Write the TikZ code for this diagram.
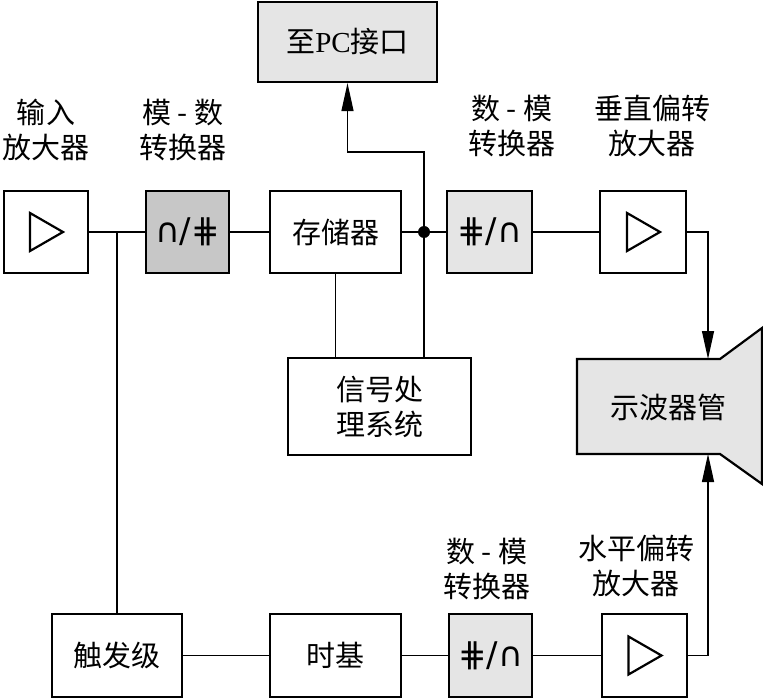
\documentclass[tikz,border=0pt]{standalone}
\usepackage{fontspec}
\setmainfont{Noto Sans CJK SC}
\newfontfamily\latinfont{Liberation Serif}
\newfontfamily\symfont{DejaVu Sans}
\usetikzlibrary{arrows.meta}

\newcommand{\symtext}[1]{{\symfont\fontsize{17}{17}\selectfont #1}}

\begin{document}
\begin{tikzpicture}[x=0.5pt,y=-0.5pt,line width=0.6pt,
                >={Triangle[length=14pt,width=6pt]},
                main node/.style={draw, line width=1.1pt, inner sep=0pt,
                  font=\fontsize{14.5}{17.5}\selectfont},
                dark node/.style={main node, fill=black!22},
                light node/.style={main node, fill=black!10},
                label node/.style={align=center, inner sep=0pt,
                  font=\fontsize{14.5}{17.5}\selectfont}]
  \useasboundingbox (0,0) rectangle (763,699);

  % top row
  \node[main node, minimum width=42pt, minimum height=41pt] (ia) at (46,232) {};
  \node[dark node, minimum width=41.5pt, minimum height=41pt] (adc) at (187.5,232) {\symtext{∩/⋕}};
  \node[main node, minimum width=65.5pt, minimum height=41pt] (mem) at (335.5,232) {存储器};
  \node[light node, minimum width=89.5pt, minimum height=40pt] (pc) at (347.5,42) {至{\latinfont PC}接口};
  \node[light node, minimum width=42.5pt, minimum height=41pt] (dac1) at (489.5,232) {\symtext{⋕/∩}};
  \node[main node, minimum width=43pt, minimum height=41pt] (va) at (643,232) {};
  \node[main node, minimum width=91.5pt, minimum height=48.5pt, align=center] (sp) at (379.5,406.5) {信号处\\理系统};

  % bottom row
  \node[main node, minimum width=65pt, minimum height=41.5pt] (tr) at (117,655.5) {触发级};
  \node[main node, minimum width=65.5pt, minimum height=41.5pt] (tb) at (335.5,655.5) {时基};
  \node[light node, minimum width=41.5pt, minimum height=41.5pt] (dac2) at (490.5,655.5) {\symtext{⋕/∩}};
  \node[main node, minimum width=42.5pt, minimum height=41.5pt] (ha) at (644.5,655.5) {};

  % amplifier symbols
  \foreach \n in {ia,va,ha}
    \draw[line width=1.1pt] ([shift={(-16,-19)}]\n.center) -- ++(33,19) -- ++(-33,19) -- cycle;

  % oscilloscope tube
  \draw[line width=1.1pt, fill=black!10] (577,359) -- (720,359) -- (762,328)
    -- (762,484) -- (720,454) -- (577,454) -- cycle;
  \node[label node] (crt) at (668,407) {示波器管};
  \coordinate (vin) at (708,359);
  \coordinate (hin) at (708,454);

  % labels
  \node[label node] (ialabel) at (46,130) {输入\\放大器};
  \node[label node] (adclabel) at (183,130) {模 - 数\\转换器};
  \node[label node] (dac1label) at (512,126) {数 - 模\\转换器};
  \node[label node] (valabel) at (652,126) {垂直偏转\\放大器};
  \node[label node] (dac2label) at (487,569) {数 - 模\\转换器};
  \node[label node] (halabel) at (636,566) {水平偏转\\放大器};

  % connections
  \coordinate (jn) at (424,232);
  \coordinate (br) at (117,232);
  \draw (ia) -- (adc);
  \draw (adc) -- (mem);
  \draw (mem) -- (dac1);
  \draw (dac1) -- (va);
  \draw[->] (va.east) -| (vin);
  \draw (br) -- (tr.north);
  \draw (mem.south) -- (mem.south |- sp.north);
  \draw (jn) -- (jn |- sp.north);
  \draw[->] (jn) -- ++(0,-80) -| (pc.south);
  \fill (jn) circle (3pt);
  \draw (tr) -- (tb);
  \draw (tb) -- (dac2);
  \draw (dac2) -- (ha);
  \draw[->] (ha.east) -| (hin);
\end{tikzpicture}
\end{document}
